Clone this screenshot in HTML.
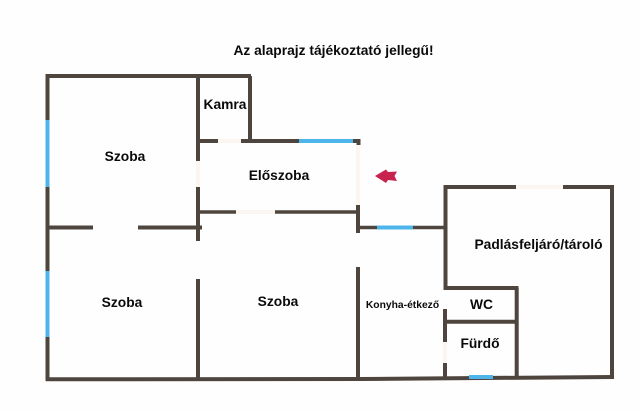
<!DOCTYPE html>
<html><head><meta charset="utf-8"><style>
html,body{margin:0;padding:0;background:#fefefe}
svg{display:block}
text{font-family:"Liberation Sans",Arial,sans-serif;font-weight:700;fill:#0a0a0a;text-anchor:middle}
</style></head><body>
<svg width="640" height="411" viewBox="0 0 640 411" xmlns="http://www.w3.org/2000/svg">
<rect width="640" height="411" fill="#fefefe"/>
<g style="filter:blur(0.3px)">
<g stroke="#4f453f" stroke-width="4" fill="none" stroke-linecap="butt">
<path d="M46 76H251"/>
<path d="M47.500 74V120M47.500 187V271M47.500 337V381"/>
<path d="M46 379.300L360 379L612 377"/>
<path d="M198 76V161M198 187V241M198 279V379"/>
<path d="M47 227.500H93M138 227.500H202"/>
<path d="M250 76V141"/>
<path d="M198 141H218M241 141H299M353 141H360"/>
<path d="M358.500 139V145M358 205V233"/>
<path d="M200 212H236M275 212H358" stroke-width="3.500"/>
<path d="M358 227.500H377M413 227.500H445" stroke-width="3.500"/>
<path d="M445.500 185V290"/>
<path d="M444 187H516M563 187H614"/>
<path d="M612 185V379"/>
<path d="M444 288H518.500"/>
<path d="M516.700 288V378"/>
<path d="M445 321.700H517"/>
<path d="M445 309V342M445 363V378"/>
<path d="M358 267V378"/>
</g>
<g stroke="#4db5ea" stroke-width="4" fill="none">
<path d="M47.500 120V187M47.500 271V337"/>
<path d="M299 141H353"/>
<path d="M377 227.500H413"/>
<path d="M469 377H493"/>
</g>
<g stroke="#fbf7f0" stroke-width="4" fill="none">
<path d="M218 141H241"/>
<path d="M358 145V205"/>
<path d="M236 212H275"/>
<path d="M516 187H563"/>
<path d="M445 342V363"/>
<path d="M198 161V187"/>
</g>
<path d="M375 176L386 169.500L388 172L397 171.500L394.500 176L397 181L388 180L386 183Z" fill="#c9224f"/>
<text x="333.500" y="55" font-size="13.800">Az alaprajz tájékoztató jellegű!</text>
<text x="125" y="161" font-size="13.800">Szoba</text>
<text x="225" y="109" font-size="13.800">Kamra</text>
<text x="279" y="180" font-size="13.800">Előszoba</text>
<text x="122" y="307" font-size="13.800">Szoba</text>
<text x="278" y="306" font-size="13.800">Szoba</text>
<text x="402.500" y="308" font-size="10.300">Konyha-étkező</text>
<text x="538.500" y="249" font-size="13.800">Padlásfeljáró/tároló</text>
<text x="481.500" y="309" font-size="13.800">WC</text>
<text x="480" y="348" font-size="13.800">Fürdő</text>
</g>
</svg>
</body></html>
